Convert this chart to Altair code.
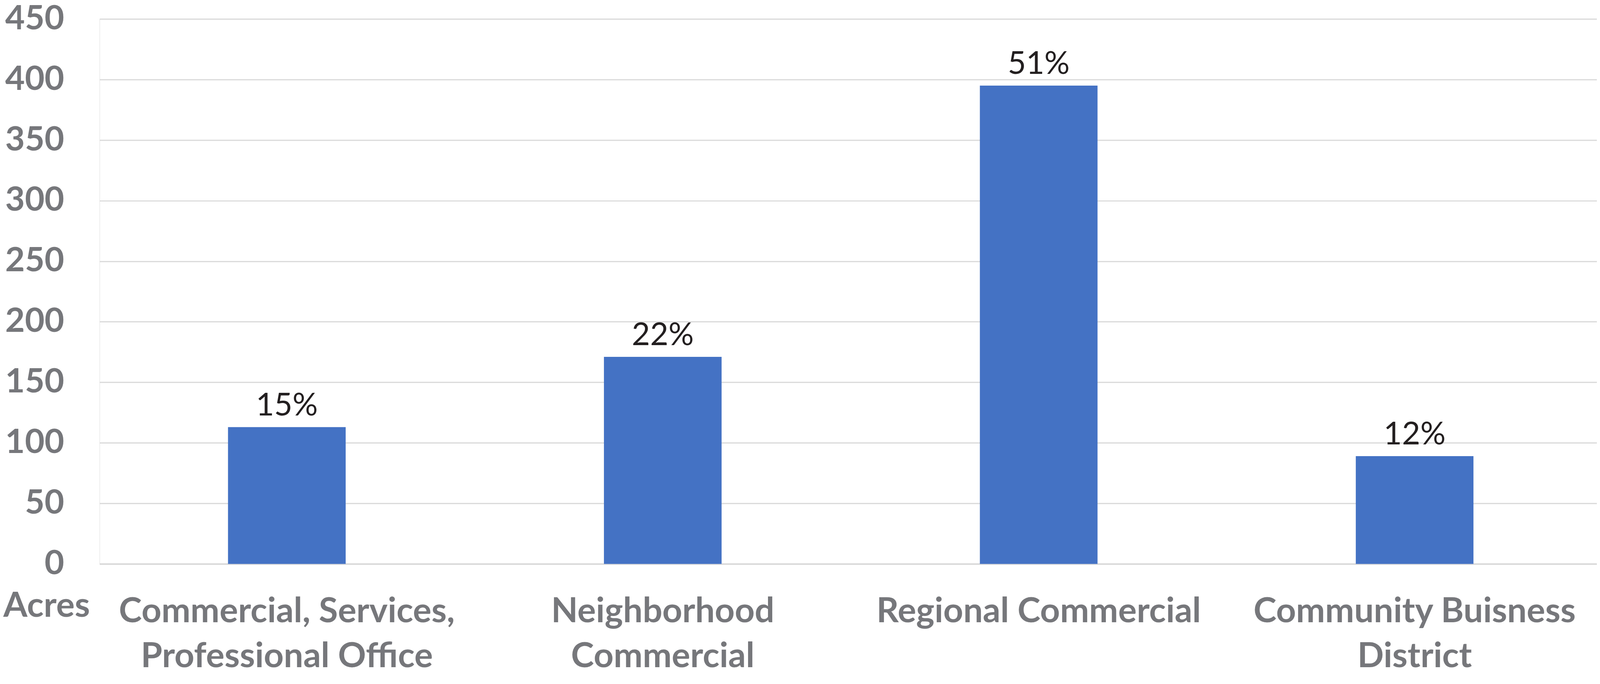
import altair as alt
import pandas as pd

categories = [
    "Commercial, Services,\nProfessional Office",
    "Neighborhood\nCommercial",
    "Regional Commercial",
    "Community Buisness\nDistrict",
]
acres = [113, 171, 395, 89]
pct_labels = ["15%", "22%", "51%", "12%"]
y_ticks = [0, 50, 100, 150, 200, 250, 300, 350, 400, 450]

df = pd.DataFrame({"category": categories, "acres": acres, "pct": pct_labels})

GRAY = "#76777b"
FONT = "Lato"

x_enc = alt.X(
    "category:N",
    sort=None,
    scale=alt.Scale(paddingInner=0.687, paddingOuter=0.335, align=0.51),
    axis=alt.Axis(
        title=None,
        labelAngle=0,
        labelExpr="split(datum.label, '\\n')",
        labelFont=FONT,
        labelFontSize=90,
        labelFontWeight="bold",
        labelColor=GRAY,
        labelLineHeight=116,
        labelBaseline="top",
        labelPadding=80,
        ticks=False,
        tickSize=0,
        domain=True,
        domainColor="#d9d9d9",
        domainWidth=4,
        grid=False,
        labelLimit=2000,
    ),
)

y_enc = alt.Y(
    "acres:Q",
    scale=alt.Scale(domain=[0, 450], nice=False),
    axis=alt.Axis(
        title="Acres",
        titleAngle=0,
        titleAlign="left",
        titleBaseline="alphabetic",
        titleX=-250,
        titleY=1548,
        titleFont=FONT,
        titleFontSize=90,
        titleFontWeight="bold",
        titleColor=GRAY,
        values=y_ticks,
        labelFont=FONT,
        labelFontSize=88,
        labelFontWeight="bold",
        labelColor=GRAY,
        labelPadding=92,
        ticks=False,
        tickSize=0,
        domain=False,
        grid=True,
        gridColor="#d9d9d9",
        gridWidth=3,
    ),
)

bars = alt.Chart(df).mark_bar(color="#4472C4").encode(x=x_enc, y=y_enc)

labels = alt.Chart(df).mark_text(
    font=FONT,
    fontSize=82,
    color="#231f20",
    baseline="alphabetic",
    dy=-30,
).encode(
    x=alt.X("category:N", sort=None),
    y=alt.Y("acres:Q"),
    text="pct:N",
)

chart = (
    alt.layer(bars, labels)
    .properties(
        width=3882,
        height=1412,
        autosize=alt.AutoSizeParams(type="none"),
        padding={"left": 250, "top": 30, "right": 0, "bottom": 296},
    )
    .configure_view(strokeWidth=0, strokeOpacity=0)
    .configure(background="white")
)

chart.save("out.html", embed_options={"renderer": "svg", "actions": False})
